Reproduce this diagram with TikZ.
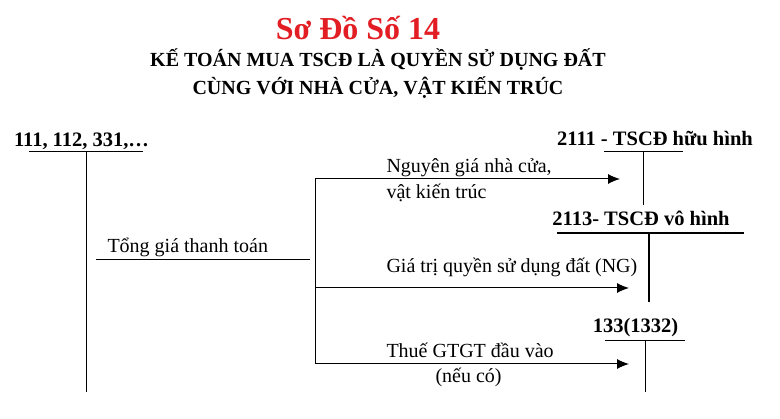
\documentclass[tikz,border=0pt]{standalone}
\usepackage{fontspec}
\setmainfont{Liberation Serif}
\usetikzlibrary{arrows.meta}
\definecolor{titlered}{RGB}{226,30,36}
\tikzset{l/.style={font=\fontsize{20}{20}\selectfont, anchor=base west, inner sep=0pt}}
\tikzset{acc/.style={font=\fontsize{20.5}{20.5}\selectfont\bfseries, anchor=base, inner sep=0pt}}
\tikzset{hd/.style={font=\fontsize{20}{20}\selectfont\bfseries, anchor=base, inner sep=0pt}}
\tikzset{flow/.style={-{Latex[length=12pt,width=10pt]}, line width=1pt}}

\begin{document}
\begin{tikzpicture}[x=1pt,y=-1pt, line width=1pt]
  \useasboundingbox (0,0) rectangle (780,419);
  % title
  \node[hd, font=\fontsize{32}{32}\selectfont\bfseries, text=titlered] (title) at (358,40) {Sơ Đồ Số 14};
  \node[hd] (sub1) at (378,67) {KẾ TOÁN MUA TSCĐ LÀ QUYỀN SỬ DỤNG ĐẤT};
  \node[hd] (sub2) at (378,95) {CÙNG VỚI NHÀ CỬA, VẬT KIẾN TRÚC};

  % tai khoan doi ung
  \node[acc] (a111) at (81.5,147) {111, 112, 331,…};
  \coordinate (a111L) at (29,152);
  \coordinate (a111R) at (143,152);
  \coordinate (a111T) at (86,152);
  \coordinate (a111B) at (86,392);
  \draw (a111L) -- (a111R);
  \draw (a111T) -- (a111B);

  % tong gia thanh toan
  \node[l] (tong) at (107,253) {Tổng giá thanh toán};
  \coordinate (tongL) at (96,260);
  \coordinate (tongR) at (310,260);
  \draw (tongL) -- (tongR);

  % nhanh
  \coordinate (br1) at (315,179);
  \coordinate (br2) at (315,288);
  \coordinate (br3) at (315,364);
  \draw (br1) -- (br3);

  % 2111
  \node[acc] (a2111) at (655,146) {2111 - TSCĐ hữu hình};
  \coordinate (a2111L) at (604,152);
  \coordinate (a2111R) at (683,152);
  \coordinate (a2111T) at (643,152);
  \coordinate (a2111B) at (643,205);
  \draw (a2111L) -- (a2111R);
  \draw (a2111T) -- (a2111B);

  % 2113
  \node[acc] (a2113) at (641,226) {2113- TSCĐ vô hình};
  \coordinate (a2113L) at (557,233);
  \coordinate (a2113R) at (744,233);
  \coordinate (a2113T) at (649,233);
  \coordinate (a2113B) at (649,302);
  \draw[line width=2.6pt] (a2113L) -- (a2113R);
  \draw[line width=2.6pt] (a2113T) -- (a2113B);

  % 133
  \node[acc] (a133) at (635.5,333) {133(1332)};
  \coordinate (a133L) at (605,341);
  \coordinate (a133R) at (685,341);
  \coordinate (a133T) at (645,341);
  \coordinate (a133B) at (645,392);
  \draw (a133L) -- (a133R);
  \draw (a133T) -- (a133B);

  % mui ten
  \coordinate (e1) at (620,179);
  \coordinate (e2) at (629,288);
  \coordinate (e3) at (629,364);
  \draw[flow] (br1) -- (e1);
  \draw[flow] (br2) -- (e2);
  \draw[flow] (br3) -- (e3);

  \node[l] (ng1) at (386,173) {Nguyên giá nhà cửa,};
  \node[l] (ng2) at (386,199) {vật kiến trúc};
  \node[l] (gt) at (386,273) {Giá trị quyền sử dụng đất (NG)};
  \node[l] (thue) at (386,358) {Thuế GTGT đầu vào};
  \node[l] (neu) at (435,383) {(nếu có)};
\end{tikzpicture}
\end{document}
